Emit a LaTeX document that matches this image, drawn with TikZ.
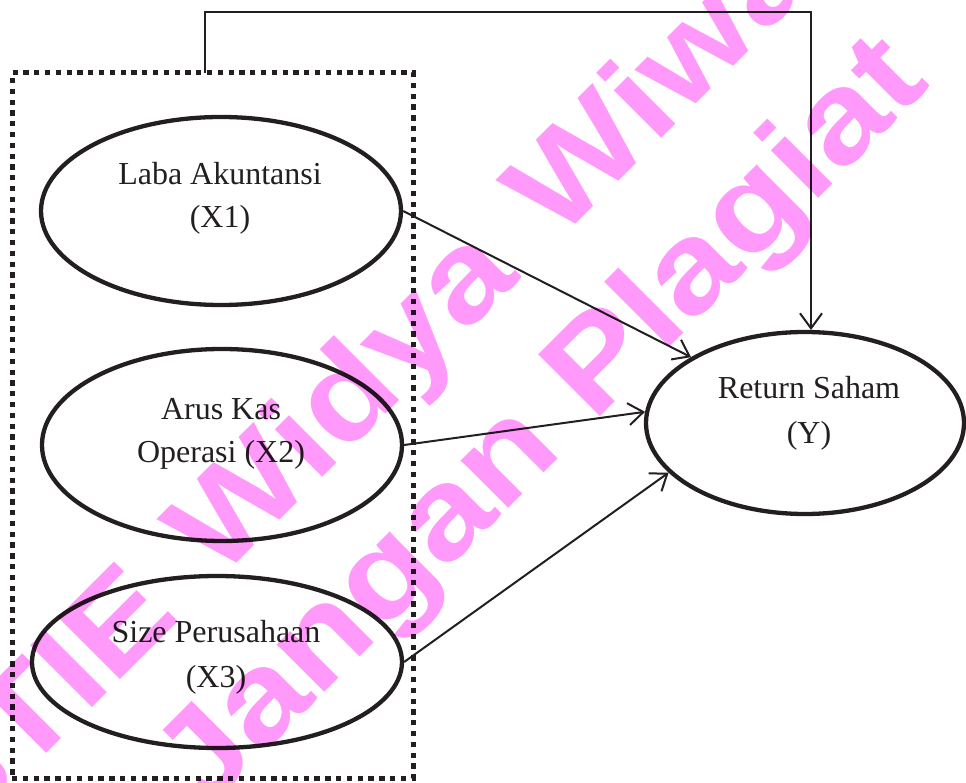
\documentclass[tikz,border=0pt]{standalone}
\usepackage{fontspec}
\setmainfont{Liberation Serif}
\newfontfamily\wmfont{Liberation Sans}[FakeStretch=1.15]
\usetikzlibrary{shapes.geometric,arrows.meta}
\definecolor{ink}{RGB}{35,31,32}
\definecolor{wmpink}{RGB}{255,153,250}
\tikzset{
  var/.style={ellipse,draw=ink,line width=4.3pt,inner sep=0pt},
  lbl/.style={anchor=base,text=ink,inner sep=0pt,font=\fontsize{32}{38}\selectfont},
  arr/.style={draw=ink,line width=2pt,-{Straight Barb[length=15pt,width=22pt,line width=2pt]}},
  grpbox/.style={draw=ink,line width=5pt,dash pattern=on 5.3pt off 5.5pt,inner sep=0pt},
  wm/.style={anchor=base west,rotate=45,text=wmpink,inner sep=0pt,font=\wmfont\bfseries\fontsize{127}{127}\selectfont}
}
\begin{document}
\begin{tikzpicture}[x=1pt,y=-1pt]
\useasboundingbox (0,0) rectangle (966,783);
% group box
\node[grpbox,minimum width=401pt,minimum height=705pt] (grp) at (212.5,425.5) {};
% variables
\node[var,minimum width=360pt,minimum height=188pt] (X1) at (221,211) {};
\node[var,minimum width=360pt,minimum height=192pt] (X2) at (222,445) {};
\node[var,minimum width=370pt,minimum height=172pt] (X3) at (217,662) {};
\node[var,minimum width=318pt,minimum height=182pt] (Y) at (805,423) {};
% labels
\node[lbl] (l1a) at (220,185) {Laba Akuntansi};
\node[lbl] (l1b) at (220,228) {(X1)};
\node[lbl] (l2a) at (221,419) {Arus Kas};
\node[lbl] (l2b) at (221,462) {Operasi (X2)};
\node[lbl] (l3a) at (216,642) {Size Perusahaan};
\node[lbl] (l3b) at (216,687) {(X3)};
\node[lbl] (lya) at (809,398) {Return Saham};
\node[lbl] (lyb) at (809,443) {(Y)};
% connectors
\draw[arr] (X1.east) -- (Y.150);
\draw[arr] (X2.east) -- (Y.176);
\draw[arr] (X3.east) -- (Y.200);
\coordinate (fbstart) at (205,73);
\coordinate (fbtop) at (205,12);
\coordinate (yin) at (811,330);
\draw[arr] (fbstart) -- (fbtop) -| (yin);
% watermark
\begin{scope}[blend mode=multiply]
\node[wm] (wm1) at (-47,847) {STIE\hspace{10pt} Widya\hspace{10pt} Wiwaha};
\node[wm] (wm2) at (203,814) {Jangan Plagiat};
\end{scope}
\end{tikzpicture}
\end{document}
